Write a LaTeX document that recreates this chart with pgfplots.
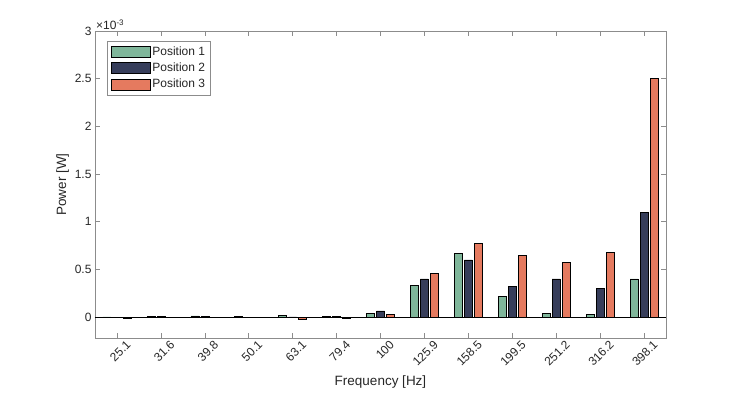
\documentclass[border=0pt]{standalone}
\usepackage{pgfplots}
\pgfplotsset{compat=1.18}
\usepackage{fontspec}
\setmainfont{Liberation Sans}
\definecolor{pone}{RGB}{127,182,154}
\definecolor{ptwo}{RGB}{54,61,90}
\definecolor{pthree}{RGB}{229,122,95}
\definecolor{axgray}{RGB}{140,140,140}
\definecolor{txt}{RGB}{38,38,38}
\begin{document}
\begin{tikzpicture}
\begin{axis}[
  scale only axis, width=571pt, height=307pt,
  xmin=-0.5, xmax=12.5, ymin=-0.22, ymax=3,
  ybar=2pt, bar width=8pt,
  /pgf/number format/assume math mode=true,
  xtick={0,...,12},
  xticklabels={25.1,31.6,39.8,50.1,63.1,79.4,100,125.9,158.5,199.5,251.2,316.2,398.1},
  x tick label style={rotate=45, anchor=north east, inner sep=1pt, xshift=6pt, yshift=-6pt},
  ytick={0,0.5,1,1.5,2,2.5,3},
  yticklabels={0,0.5,1,1.5,2,2.5,3},
  tick align=inside, major tick length=5pt,
  xtick pos=both, ytick pos=both,
  axis line style={axgray, line width=0.6pt},
  tick style={axgray, line width=0.6pt},
  every tick label/.append style={font=\fontsize{12}{14}\selectfont, text=txt},
  xlabel={Frequency [Hz]}, ylabel={Power [W]},
  label style={font=\fontsize{13.5}{15}\selectfont, text=txt},
  xlabel style={yshift=-4pt},
  ylabel style={yshift=-1pt},
  legend style={at={(0.021,0.967)}, anchor=north west, draw=axgray, line width=0.5pt,
    font=\fontsize{12}{14}\selectfont, text=txt, row sep=2pt, inner sep=3.5pt},
  legend cell align=left,
  legend image code/.code={\draw[#1, line width=0.6pt] (0pt,-5.5pt) rectangle (39pt,5.5pt);},
  clip=false,
]
\addplot[fill=pone, draw=black, line width=0.6pt] coordinates {
 (0,0.002) (1,0.003) (2,0.012) (3,0.005) (4,0.015) (5,0.003) (6,0.04)
 (7,0.33) (8,0.67) (9,0.22) (10,0.04) (11,0.03) (12,0.40)};
\addplot[fill=ptwo, draw=black, line width=0.6pt] coordinates {
 (0,-0.003) (1,0.003) (2,0.003) (3,-0.004) (4,0.002) (5,0.01) (6,0.065)
 (7,0.40) (8,0.60) (9,0.32) (10,0.40) (11,0.30) (12,1.10)};
\addplot[fill=pthree, draw=black, line width=0.6pt] coordinates {
 (0,-0.01) (1,0.0) (2,-0.008) (3,-0.005) (4,-0.02) (5,-0.01) (6,0.025)
 (7,0.46) (8,0.77) (9,0.65) (10,0.57) (11,0.68) (12,2.50)};
\legend{Position 1, Position 2, Position 3}
\addplot[black, line width=0.6pt, forget plot, sharp plot] coordinates {(-0.5,0) (12.5,0)};
\node[anchor=south west, inner sep=1pt, text=txt, font=\fontsize{12}{14}\selectfont] at (rel axis cs:0,1) {×10\textsuperscript{-3}};
\end{axis}
\useasboundingbox (-95pt,-58pt) rectangle (641pt,338pt);
\end{tikzpicture}
\end{document}
